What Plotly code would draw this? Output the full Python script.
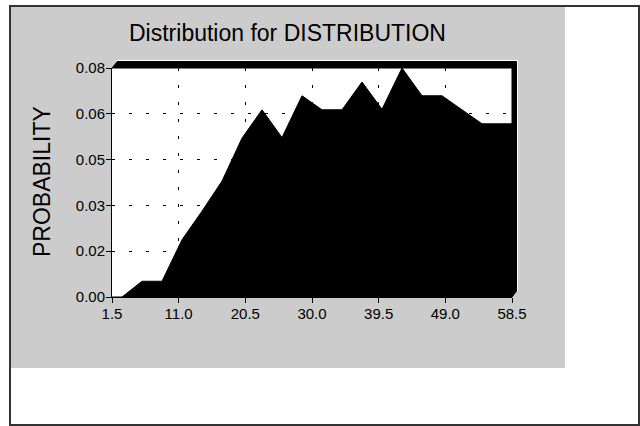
import plotly.graph_objects as go

# ---- data ----
bin_mids = [2.925, 5.775, 8.625, 11.475, 14.325, 17.175, 20.025, 22.875, 25.725, 28.575,
            31.425, 34.275, 37.125, 39.975, 42.825, 45.675, 48.525, 51.375, 54.225, 57.075]
probability = [0.0, 0.0055, 0.0055, 0.0200, 0.0300, 0.0405, 0.0555, 0.0654, 0.0557, 0.0703,
               0.0654, 0.0654, 0.0751, 0.0656, 0.0800, 0.0703, 0.0703, 0.0654, 0.0605, 0.0605]
x_tick_vals = [1.5, 11.0, 20.5, 30.0, 39.5, 49.0, 58.5]
x_tick_text = ["1.5", "11.0", "20.5", "30.0", "39.5", "49.0", "58.5"]
y_tick_vals = [0.0, 0.016, 0.032, 0.048, 0.064, 0.08]
y_tick_text = ["0.00", "0.02", "0.03", "0.05", "0.06", "0.08"]
X_MIN, X_MAX = 1.5, 58.5
Y_MIN, Y_MAX = 0.0, 0.08
title_text = "Distribution for DISTRIBUTION"
y_title = "PROBABILITY"

# ---- layout geometry ----
W, H = 640, 426
L, R, T, B = 112, 128, 68, 129
PW, PH = W - L - R, H - T - B


def px(x):
    return (x - L) / PW


def py(y):
    return (H - B - y) / PH


FONT = "Liberation Sans, Arial, Helvetica, sans-serif"

xs = [X_MIN] + bin_mids + [X_MAX]
ys = [0.0] + probability + [probability[-1]]

fig = go.Figure()
fig.add_trace(go.Scatter(
    x=xs, y=ys, mode="lines", fill="tozeroy",
    fillcolor="black", line=dict(color="black", width=1),
    hoverinfo="skip", showlegend=False,
))

shapes = [
    # gray panel
    dict(type="rect", xref="paper", yref="paper", layer="below",
         x0=px(11), x1=px(565), y0=py(7), y1=py(368),
         fillcolor="#cccccc", line=dict(width=0)),
    # white plot area
    dict(type="rect", xref="paper", yref="paper", layer="below",
         x0=0, x1=1, y0=0, y1=1, fillcolor="white", line=dict(width=0)),
    # 3D depth frame (top and right)
    dict(type="path", xref="paper", yref="paper", layer="above",
         path=(f"M {px(112)},{py(68)} L {px(117.5)},{py(61.5)} L {px(516.5)},{py(61.5)} "
               f"L {px(516.5)},{py(291)} L {px(512)},{py(297)} L {px(512)},{py(68)} Z"),
         fillcolor="black", line=dict(color="black", width=1)),
    dict(type="path", xref="paper", yref="paper", layer="above",
         path=(f"M {px(117.5)},{py(60.5)} L {px(517.5)},{py(60.5)} L {px(517.5)},{py(291)}"),
         line=dict(color="white", width=1)),
    # outer border
    dict(type="rect", xref="paper", yref="paper", layer="above",
         x0=px(10), x1=px(639), y0=py(6), y1=py(425),
         fillcolor="rgba(0,0,0,0)", line=dict(color="#333333", width=2)),
]

annotations = [
    dict(text=title_text, xref="paper", yref="paper", x=px(287.5), y=py(33),
         xanchor="center", yanchor="middle", showarrow=False,
         font=dict(family=FONT, size=23, color="black")),
    dict(text=y_title, xref="paper", yref="paper", x=px(42), y=py(182),
         xanchor="center", yanchor="middle", showarrow=False, textangle=-90,
         font=dict(family=FONT, size=23, color="black")),
]

axis_common = dict(
    showline=True, linecolor="black", linewidth=1,
    ticks="outside", ticklen=5, tickwidth=1, tickcolor="black",
    showgrid=True, gridcolor="black", gridwidth=1, griddash="3px,14px",
    zeroline=False, tickfont=dict(family=FONT, size=15, color="black"),
)

fig.update_layout(
    width=W, height=H, autosize=False,
    margin=dict(l=L, r=R, t=T, b=B, pad=0),
    paper_bgcolor="white", plot_bgcolor="rgba(0,0,0,0)",
    xaxis=dict(range=[X_MIN, X_MAX], tickvals=x_tick_vals, ticktext=x_tick_text,
               ticklabelstandoff=-2, **axis_common),
    yaxis=dict(range=[Y_MIN, Y_MAX], tickvals=y_tick_vals, ticktext=y_tick_text,
               ticklabelstandoff=-2, **axis_common),
    shapes=shapes, annotations=annotations, showlegend=False,
)

fig.write_html("out.html", config={"displayModeBar": False},
               post_script="document.body.style.margin='0';document.body.style.overflow='hidden';")
